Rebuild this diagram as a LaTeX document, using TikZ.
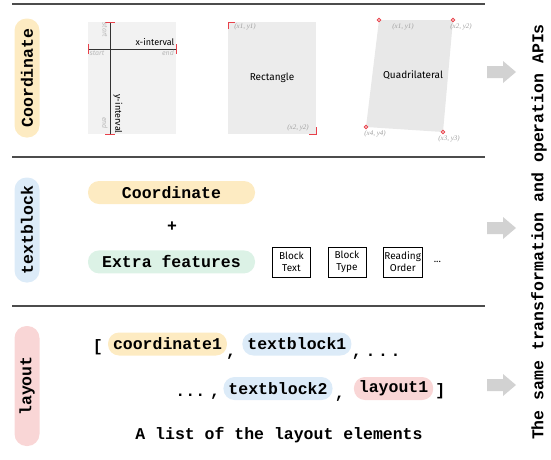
\documentclass[tikz,border=0pt]{standalone}
\usepackage{fontspec}
\newfontfamily\codefont{Liberation Mono}
\newfontfamily\labelfont{Fira Sans}
\newfontfamily\notefont{Liberation Serif}
\usepackage{tikz}
\usetikzlibrary{positioning}
\definecolor{coordcol}{HTML}{FDEBC2}
\definecolor{blockcol}{HTML}{DCEBF8}
\definecolor{featcol}{HTML}{DCF2E6}
\definecolor{layoutcol}{HTML}{F9D6D6}
\definecolor{arrowcol}{HTML}{D2D2D2}
\definecolor{markcol}{HTML}{E8404A}

\begin{document}
\begin{tikzpicture}[x=1pt, y=-1pt,
  code/.style={font=\codefont\bfseries\fontsize{16.5}{16.5}\selectfont},
  pill/.style={code, rounded corners=11pt, minimum height=23pt, inner xsep=5pt, inner ysep=0pt},
  side/.style={pill, rotate=90, minimum height=25pt, rounded corners=12pt},
  feat/.style={draw, line width=0.5pt, align=center, minimum width=38pt, minimum height=30pt, inner sep=1pt, font=\labelfont\fontsize{10}{11.5}\selectfont},
  shapelab/.style={font=\labelfont\fontsize{10}{10}\selectfont},
  note/.style={font=\notefont\itshape\fontsize{7}{7}\selectfont, gray!75},
  hint/.style={font=\labelfont\itshape\fontsize{7}{7}\selectfont, gray!55},
  redmark/.style={markcol, line width=1pt},
  sep/.style={line width=1.2pt, black!70}
]
  \useasboundingbox (0,0) rectangle (551,459);

  % Section rules
  \foreach \y in {4, 157, 306}
    \draw[sep] (12,\y) -- (485,\y);

  % Side tags
  \node[side, fill=coordcol, minimum width=119pt] (coordtag) at (27,78) {Coordinate};
  \node[side, fill=blockcol, minimum width=105pt] (blocktag) at (27,230) {textblock};
  \node[side, fill=layoutcol, minimum width=120pt] (layouttag) at (27,386) {layout};

  % Interval panel
  \fill[gray!10] (88,22) rectangle (176,134);
  \draw[line width=0.9pt, black!80] (110,22) -- (110,134);
  \draw[line width=0.9pt, black!80] (88,49) -- (176,49);
  \draw[redmark] (105,22) -- (115,22) (105,134) -- (115,134);
  \draw[redmark] (88,44) -- (88,54) (176,44) -- (176,54);
  \node[shapelab, font=\labelfont\fontsize{9}{9}\selectfont] (xint) at (155,42) {x-interval};
  \node[shapelab, font=\labelfont\fontsize{9}{9}\selectfont, rotate=-90] (yint) at (118,114) {y-interval};
  \node[hint] (xstart) at (97,53) {start};
  \node[hint] (xend) at (168,53) {end};
  \node[hint, rotate=-90] (ystart) at (105,30) {start};
  \node[hint, rotate=-90] (yend) at (105,123) {end};

  % Rectangle panel
  \fill[gray!15] (228,22) rectangle (316,134);
  \draw[redmark] (228,29) -- (228,22) -- (235,22);
  \draw[redmark] (316,127) -- (316,134) -- (309,134);
  \node[shapelab] (rectlab) at (272,78) {Rectangle};
  \node[note] (r1) at (245,27) {(x1, y1)};
  \node[note] (r2) at (298,128) {(x2, y2)};

  % Quadrilateral panel
  \fill[gray!18] (379,20) -- (453,20) -- (443,132) -- (366,127) -- cycle;
  \foreach \px/\py in {379/20, 453/20, 443/132, 366/127}
    \draw[markcol, fill=white, line width=0.8pt] (\px,\py) circle (1.8pt);
  \node[shapelab] (quadlab) at (413,75) {Quadrilateral};
  \node[note] (q1) at (403,27) {(x1, y1)};
  \node[note] (q2) at (461,27) {(x2, y2)};
  \node[note] (q3) at (449,139) {(x3, y3)};
  \node[note] (q4) at (375,134) {(x4, y4)};

  % Textblock = coordinate + features
  \node[pill, fill=coordcol, minimum width=167pt] (coordpill) at (171.5,192.5) {Coordinate};
  \node[code] (plus) at (172,227) {+};
  \node[pill, fill=featcol, minimum width=167pt, below=46pt of coordpill] (extrapill) {Extra features};
  \node[feat, right=17pt of extrapill] (blocktext) {Block\\Text};
  \node[feat, right=17pt of blocktext] (blocktype) {Block\\Type};
  \node[feat, right=17pt of blocktype] (readorder) {Reading\\Order};
  \node[font=\labelfont\fontsize{10}{10}\selectfont, right=8pt of readorder] (more) {...};

  % Layout list
  \node[pill, fill=coordcol] (item1) at (167.5,344) {coordinate1};
  \node[pill, fill=blockcol, right=15pt of item1] (item2) {textblock1};
  \node[pill, fill=blockcol] (item3) at (278,388.5) {textblock2};
  \node[pill, fill=layoutcol, right=21pt of item3] (item4) {layout1};
  \node[code, anchor=base, inner sep=0pt] (lbrack) at ([xshift=-10pt, yshift=-2pt]item1.base west) {[};
  \node[code, anchor=base, inner sep=0pt] (comma1) at ([xshift=4pt, yshift=-7pt]item1.base east) {,};
  \node[code, anchor=base west, inner sep=0pt] (tail1) at ([yshift=-7pt]item2.base east) {,\hspace{4pt}.\hspace{2.6pt}.\hspace{2.6pt}.};
  \node[code, anchor=base east, inner sep=0pt] (head2) at ([xshift=-3pt, yshift=-2pt]item3.base west) {...\hspace{5pt},};
  \node[code, anchor=base, inner sep=0pt] (comma2) at ([xshift=7pt, yshift=-4pt]item3.base east) {,};
  \node[code, anchor=base, inner sep=0pt] (rbrack) at ([xshift=7pt, yshift=-3pt]item4.base east) {]};
  \node[code] (caption) at (279,435) {A list of the layout elements};

  % Shared APIs
  \foreach \y in {72, 228, 385}
    \fill[arrowcol] (487,\y-6) -- (503,\y-6) -- (503,\y-11) -- (516,\y)
      -- (503,\y+11) -- (503,\y+6) -- (487,\y+6) -- cycle;
  \node[code, rotate=90] (apis) at (539,232) {The same transformation and operation APIs};

\end{tikzpicture}
\end{document}
